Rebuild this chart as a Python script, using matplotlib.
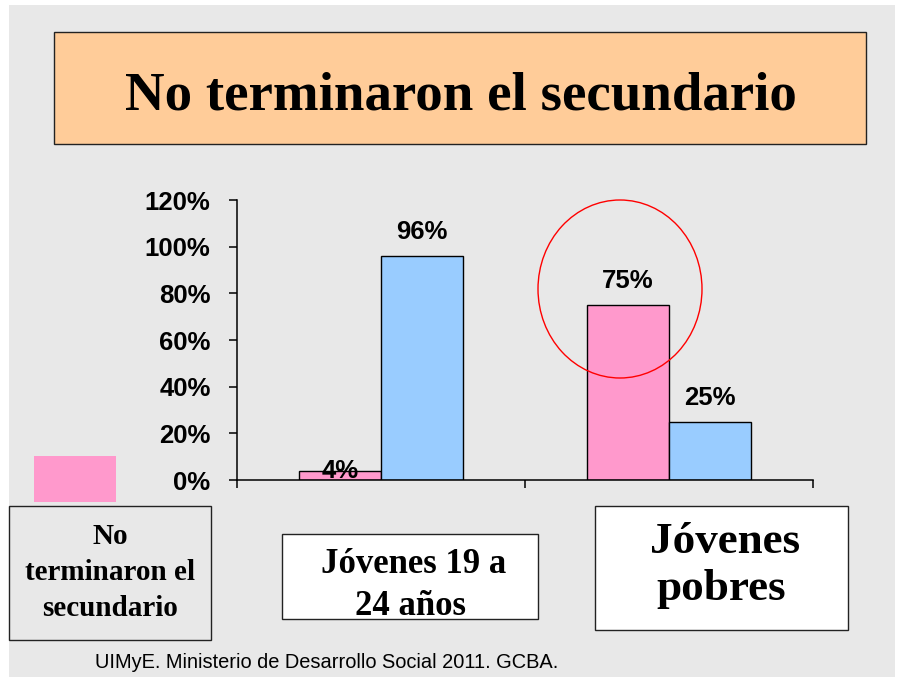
import matplotlib
matplotlib.use("Agg")
import matplotlib.pyplot as plt
from matplotlib.patches import Rectangle, Ellipse
import numpy as np

# datos
grupos = ["Jóvenes 19 a 24 años", "Jóvenes pobres"]
no_terminaron = [0.04, 0.75]
otros = [0.96, 0.25]
y_ticks = [0.0, 0.2, 0.4, 0.6, 0.8, 1.0, 1.2]

ROSA = "#FF99CC"
CELESTE = "#99CCFF"
SERIF = "Liberation Serif"
SANS = "Liberation Sans"

W, H = 897, 677
fig = plt.figure(figsize=(W / 100, H / 100), dpi=100)
fig.patch.set_facecolor("white")


def px(x, y):
    # pixeles de la diapositiva -> fracción de figura
    return x / W, 1 - y / H


def caja(x0, y0, x1, y1, fc="none", lw=1.0, ec="#222222", z=1):
    xa, ya = px(x0, y1)
    r = Rectangle((xa, ya), (x1 - x0) / W, (y1 - y0) / H, transform=fig.transFigure,
                  facecolor=fc, edgecolor=ec, linewidth=lw, zorder=z)
    fig.add_artist(r)
    return r


def texto(x, y, s, size, family=SERIF, weight="bold", ha="center", va="baseline"):
    xa, ya = px(x, y)
    fig.text(xa, ya, s, fontsize=size, family=family, fontweight=weight,
             ha=ha, va=va, color="black")


# fondo gris de la diapositiva
caja(9, 5, 895, 677, fc="#E8E8E8", lw=0, ec="none", z=0)

# titulo
caja(54, 32, 866, 144, fc="#FFCC99", lw=1.0)
texto(461, 109, "No terminaron el secundario", 39.5)

# grafico de barras
ax = fig.add_axes([237 / W, 1 - 480 / H, 576 / W, 280 / H])
ax.set_facecolor("none")
x = np.arange(len(grupos))
ancho = 0.285
b1 = ax.bar(x - ancho / 2, no_terminaron, ancho, color=ROSA, edgecolor="black", linewidth=1.0)
b2 = ax.bar(x + ancho / 2, otros, ancho, color=CELESTE, edgecolor="black", linewidth=1.0)

for barras in (b1, b2):
    for b in barras:
        v = b.get_height()
        dy = 0 if v < 0.1 else 17  # la etiqueta del 4% queda sobre la barra
        ax.annotate(f"{v:.0%}", (b.get_x() + b.get_width() / 2, v),
                    xytext=(0, dy), textcoords="offset points",
                    ha="center", va="center", fontsize=18.5,
                    family=SANS, fontweight="bold")

ax.set_xlim(-0.5, len(grupos) - 0.5)
ax.set_ylim(0, 1.2)
ax.set_yticks(y_ticks)
ax.set_yticklabels([f"{t:.0%}" for t in y_ticks], fontsize=18.5,
                   family=SANS, fontweight="bold")
ax.set_xticks(np.arange(len(grupos) + 1) - 0.5)
ax.set_xticklabels([])
ax.tick_params(axis="both", direction="out", length=6, width=1.1, color="black")
ax.tick_params(axis="y", pad=13)
for lado in ("top", "right"):
    ax.spines[lado].set_visible(False)
for lado in ("left", "bottom"):
    ax.spines[lado].set_linewidth(1.1)

# circulo rojo sobre el 75%
cx, cy = px(620, 289)
fig.add_artist(Ellipse((cx, cy), 164 / W, 178 / H, transform=fig.transFigure,
                       fill=False, edgecolor="red", linewidth=1.0, zorder=5))

# leyenda y rotulos de categorias
caja(34, 456, 116, 502, fc=ROSA, lw=0, ec="none")
caja(9, 506, 211, 640, lw=1.0)
texto(110, 544, "No", 21)
texto(110, 580, "terminaron el", 21)
texto(110, 616, "secundario", 21)

caja(282, 534, 538, 619, fc="white", lw=1.0)
texto(414, 573, "Jóvenes 19 a", 25)
texto(410, 615, "24 años", 25)

caja(595, 506, 848, 630, fc="white", lw=1.0)
texto(725, 553, "Jóvenes", 32.5)
texto(721, 600, "pobres", 32.5)

# fuente
texto(95, 668, "UIMyE. Ministerio de Desarrollo Social 2011. GCBA.", 14.4,
      family=SANS, weight="normal", ha="left")

fig.savefig("out.png", dpi=100)
